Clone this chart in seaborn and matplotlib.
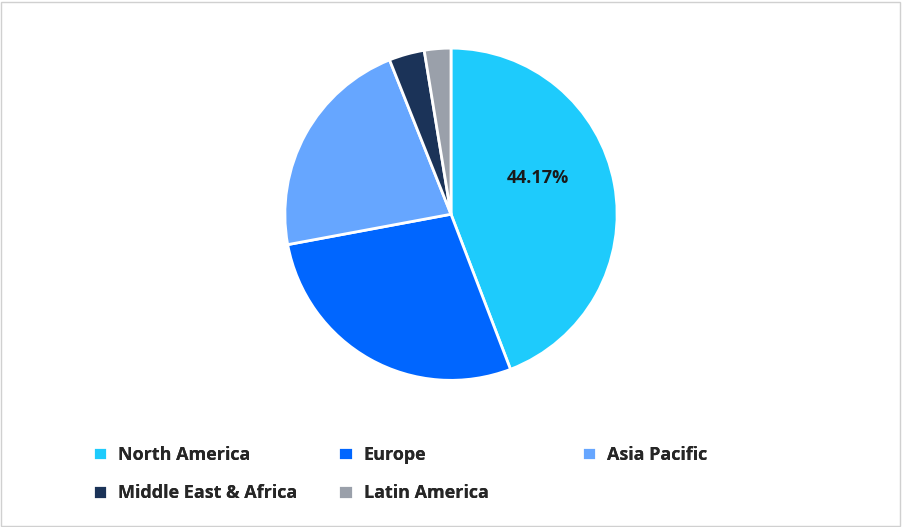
import matplotlib
matplotlib.use("Agg")
import matplotlib.pyplot as plt
import seaborn as sns
from matplotlib.patches import Rectangle

sns.set_style("white")
plt.rcParams['font.family'] = ['Open Sans', 'DejaVu Sans']

regions = ['North America', 'Europe', 'Asia Pacific', 'Middle East & Africa', 'Latin America']
shares = [44.17, 27.9, 21.9, 3.45, 2.58]
colors = ['#1ECBFC', '#0066FF', '#66A6FF', '#1B3358', '#9AA0AA']

fig = plt.figure(figsize=(9.02, 5.27), dpi=100)
ax = fig.add_axes([0.312, 0.272, 0.376, 0.643])
wedges, _ = ax.pie(shares, colors=colors, startangle=90, counterclock=False,
                   wedgeprops=dict(edgecolor='white', linewidth=2))
ax.set_xlim(-1.02, 1.02)
ax.set_ylim(-1.02, 1.02)
ax.text(0.52, 0.22, f'{shares[0]:.2f}%', ha='center', va='center',
        fontsize=13, fontweight='bold', color='#1a1a1a')
ax.set_aspect('equal')

fig.add_artist(Rectangle((0.001, 0.002), 0.997, 0.995, transform=fig.transFigure,
                         fill=False, edgecolor='#d0d0d0', linewidth=1))

# one legend per column, placed at the reference column positions
columns = [[0, 3], [1, 4], [2]]
col_x = [0.095, 0.367, 0.637]
for idx, x in zip(columns, col_x):
    leg = fig.legend([wedges[i] for i in idx], [regions[i] for i in idx],
                     loc='upper left', bbox_to_anchor=(x, 0.168),
                     frameon=False, fontsize=13, handlelength=0.8,
                     handleheight=0.8, handletextpad=0.6, labelspacing=1.15,
                     borderaxespad=0)
    for t in leg.get_texts():
        t.set_fontweight('bold')
    fig.add_artist(leg)

fig.savefig('out.png', dpi=100)
